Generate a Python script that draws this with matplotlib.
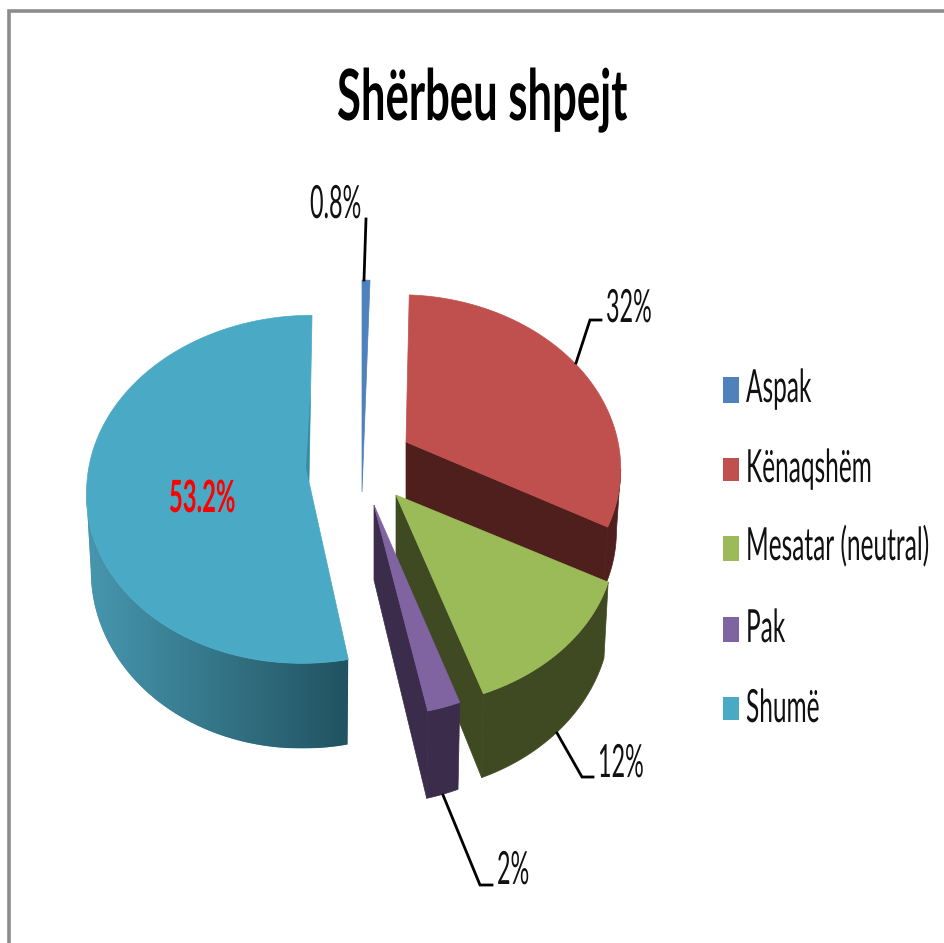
import numpy as np
import matplotlib
matplotlib.use('Agg')
import matplotlib.pyplot as plt
from matplotlib.colors import to_rgb
from matplotlib.patches import Polygon, Rectangle
from matplotlib.patheffects import AbstractPathEffect
from matplotlib.transforms import Affine2D

# data
title = 'Shërbeu shpejt'
categories = ['Aspak', 'Kënaqshëm', 'Mesatar (neutral)', 'Pak', 'Shumë']
values = [0.8, 32, 12, 2, 53.2]

# colours
top_colors = ['#4F81BD', '#C0504D', '#9BBB59', '#8064A2', '#4AA9C4']
wall_left = ['#3F6797', '#4F1F1D', '#3F4A22', '#3B2C4C', '#4797AF']
wall_right = ['#3F6797', '#4F1F1D', '#3F4A22', '#3B2C4C', '#215361']

# slice geometry, in pixels: apex x, apex y, rx, ry, perspective, shear up, shear down, depth, depth growth
geometry = [
    (362, 492, 160, 212, 0.00, 0, 0, 0, 0.00),
    (406, 442, 212, 170, 0.134, 6, 6, 62, 0.00),
    (396, 495, 209, 161, 0.32, 0, 0, 70, 0.07),
    (374, 505, 205, 160, 0.32, 0, 0, 75, 0.06),
    (309, 482, 222, 174, 0.042, -3, -7, 75, 0.056),
]
# which slices show the flat cut face at their end angle
show_face = [False, True, True, True, False]

# leader lines and label baselines
leaders = [
    [(364, 280), (366, 219)],
    [(576, 363), (590, 320), (601, 320)],
    [(557, 733), (582, 777), (593, 777)],
    [(443, 795), (480, 885), (492, 885)],
    None,
]
label_pos = [(310, 218), (606, 322), (598, 777), (497, 884), (169, 512)]
legend_y = [(377, 403), (458, 481), (536, 561), (617, 642), (697, 720)]
legend_base = [402, 482, 560, 642, 722]


class Stretch(AbstractPathEffect):
    # the source picture is squeezed sideways: scale glyphs up around the baseline
    def __init__(self, sy=1.0):
        super().__init__()
        self.sy = sy

    def draw_path(self, renderer, gc, tpath, affine, rgbFace=None):
        renderer.draw_path(gc, tpath, Affine2D().scale(1, self.sy) + affine, rgbFace)


def rim(t, g):
    ax_, ay, rx, ry, p, s_up, s_down, d0, k = g
    v = -np.cos(t)
    s = np.where(v < 0, s_up, s_down)
    x = ax_ + rx * np.sin(t) * (1 + p * v) + s * v
    y = ay + ry * v * (1 + p * v)
    return x, y


def bottom(x, y, g):
    return g[0] + (x - g[0]) * 0.98, y + g[7] + g[8] * (y - g[1])


def draw_text(ax, x, y, s, size, sy=1.6, color='#111111', weight='normal'):
    ax.text(x, y, s, fontsize=size, color=color, fontweight=weight, ha='left', va='baseline',
            family=['Lato', 'DejaVu Sans'], path_effects=[Stretch(sy)])


fig = plt.figure(figsize=(9.44, 9.43), dpi=100)
ax = fig.add_axes([0, 0, 1, 1])

# chart frame, only top and left survive in the picture
ax.plot([8.5, 8.5, 944], [943, 11, 11], color='#8C8C8C', lw=2.6, solid_joinstyle='miter')

edges = np.radians(np.concatenate([[0], np.cumsum(values)]) * 3.6)
order = [4, 0, 1, 2, 3]
for i in order:
    g = geometry[i]
    t = np.linspace(edges[i], edges[i + 1], 200)
    x, y = rim(t, g)
    xb, yb = bottom(x, y, g)
    # outer wall, from the side silhouette to the front
    if g[7] > 0:
        side = np.argmin(x) if np.sin((edges[i] + edges[i + 1]) / 2) < 0 else np.argmax(x)
        vis = y >= y[side]
        wall = np.vstack([np.column_stack([x[vis], y[vis]]),
                          np.column_stack([xb[vis], yb[vis]])[::-1]])
        if wall_left[i] == wall_right[i]:
            ax.add_patch(Polygon(wall, closed=True, fc=wall_left[i], ec=wall_left[i], lw=0.5))
        else:
            # shading runs left to right across the wall
            patch = Polygon(wall, closed=True, fc=wall_left[i], ec='none')
            ax.add_patch(patch)
            c0, c1 = np.array(to_rgb(wall_left[i])), np.array(to_rgb(wall_right[i]))
            ramp = np.linspace(0, 1, 256)[None, :, None]
            grad = c0[None, None, :] + (c1 - c0)[None, None, :] * ramp
            im = ax.imshow(grad, extent=(wall[:, 0].min(), wall[:, 0].max(), wall[:, 1].max(), wall[:, 1].min()),
                           aspect='auto', interpolation='bilinear', zorder=1)
            im.set_clip_path(patch)
    if show_face[i]:
        ax.add_patch(Polygon([(g[0], g[1]), (x[-1], y[-1]), (xb[-1], yb[-1]), (g[0], g[1] + g[7])],
                             closed=True, fc=wall_left[i], ec=wall_left[i], lw=0.5))
    ax.add_patch(Polygon(np.vstack([[g[0], g[1]], np.column_stack([x, y])]), closed=True,
                         fc=top_colors[i], ec=top_colors[i], lw=0.5))

# thin dark sliver along the back cut of the big slice
g = geometry[4]
xe, ye = rim(edges[5], g)
ax.add_patch(Polygon([(g[0] + (xe - g[0]) * 0.55, g[1] + (ye - g[1]) * 0.55), (g[0], g[1]), (g[0] - 3, g[1] - 14)],
                     closed=True, fc='#3A8CA3', ec='none'))

for line in leaders:
    if line is not None:
        xs, ys = zip(*line)
        ax.plot(xs, ys, color='black', lw=2.0, solid_joinstyle='miter')

for i, (x, y) in enumerate(label_pos):
    if i < 4:
        draw_text(ax, x, y, f'{values[i]:g}%', 16.8, sy=1.96)
    else:
        draw_text(ax, x, y, f'{values[i]:g}%', 17.1, sy=1.87, color='#FF0000', weight='bold')

# legend
for i, name in enumerate(categories):
    y0, y1 = legend_y[i]
    ax.add_patch(Rectangle((723, y0), 16, y1 - y0, fc=top_colors[i], ec='none'))
    draw_text(ax, 746, legend_base[i], name, 17.6, sy=1.87)

draw_text(ax, 337, 120, title, 31.4, sy=1.62, color='black', weight='bold')

ax.set_xlim(0, 944)
ax.set_ylim(943, 0)
ax.axis('off')

fig.savefig('out.png', dpi=100)
